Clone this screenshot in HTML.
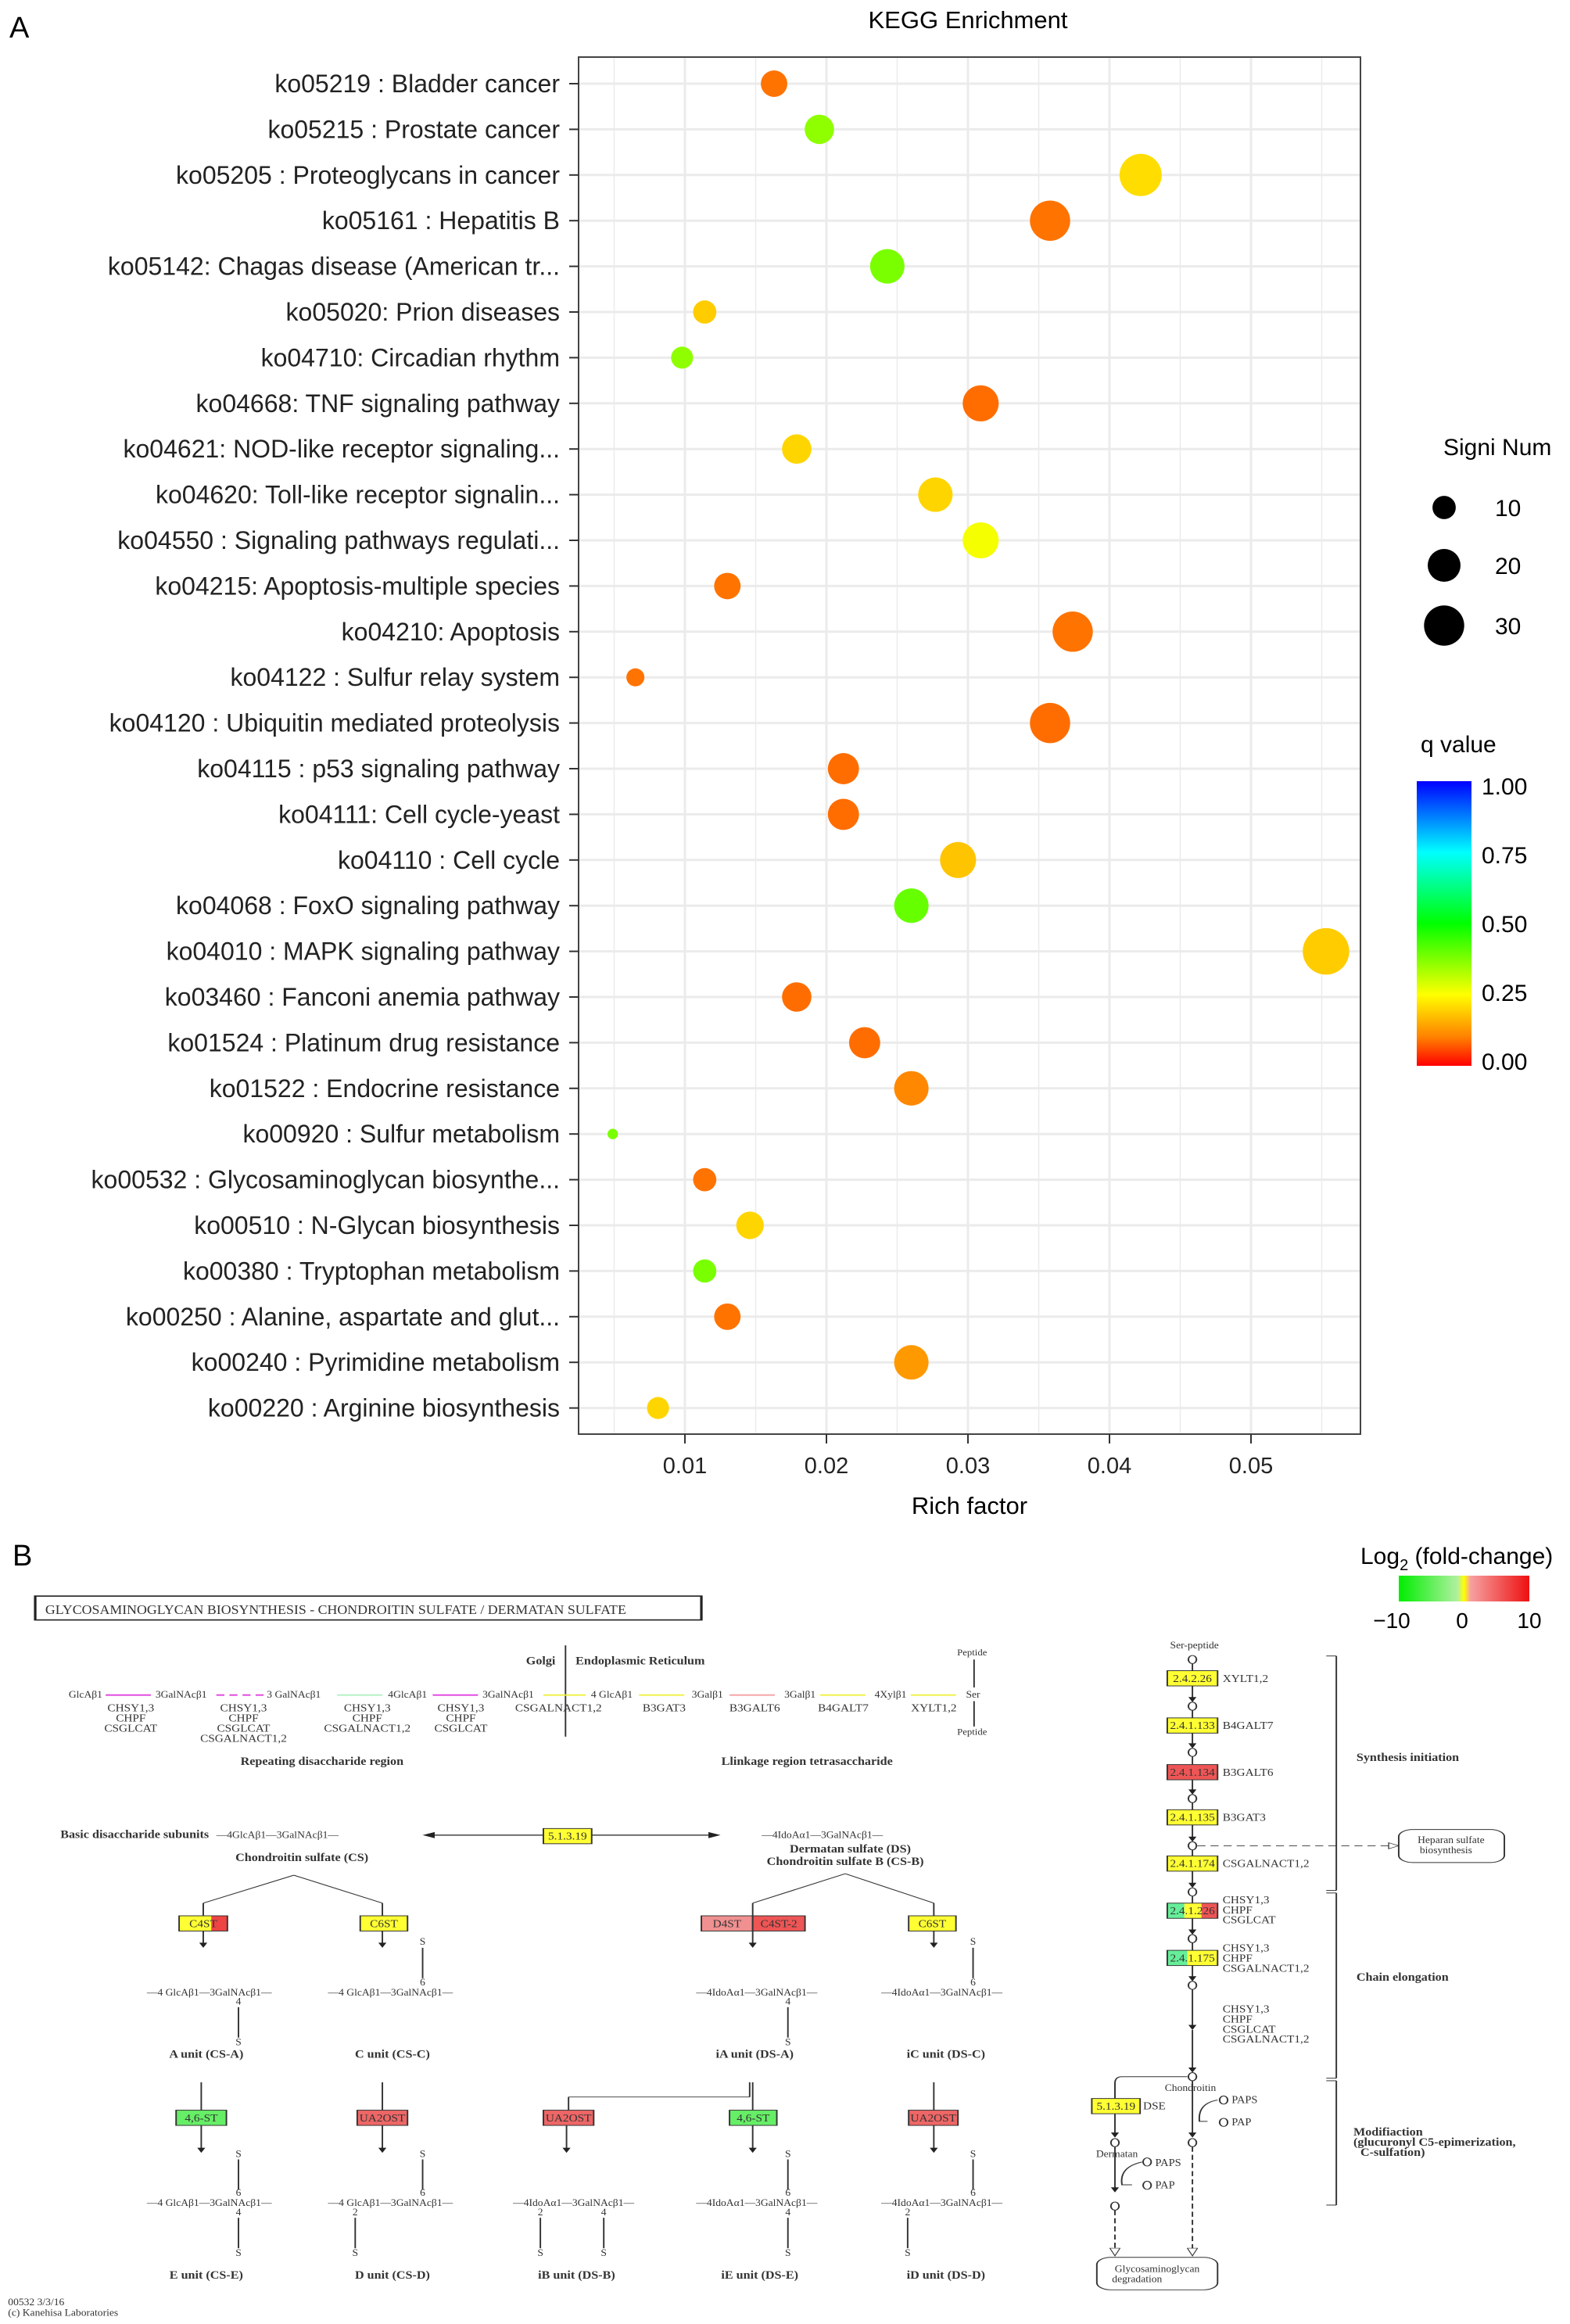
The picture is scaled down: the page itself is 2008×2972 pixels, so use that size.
<!DOCTYPE html>
<html><head><meta charset="utf-8"><style>
body{margin:0;background:#fff;}
svg{display:block;font-family:"Liberation Sans",sans-serif;}
.d text{font-family:"Liberation Serif",serif;fill:#333;}
</style></head><body>
<svg id="main" width="2008" height="2972" viewBox="0 0 2008 2972">
<text x="12" y="48" font-size="38">A</text>
<text x="1238" y="36" font-size="31" text-anchor="middle">KEGG Enrichment</text>
<g id="grid"></g>
<rect x="740" y="73" width="1000" height="1761" fill="none" stroke="#444" stroke-width="2"/>
<g id="yaxis"></g>
<g id="xaxis"></g>
<g id="points"></g>
<text x="1240" y="1936" font-size="31" text-anchor="middle">Rich factor</text>
<g>
<text x="1846" y="582" font-size="30">Signi Num</text>
<circle cx="1847" cy="649" r="14.9" fill="#000"/>
<text x="1912" y="660" font-size="30">10</text>
<circle cx="1847" cy="723" r="21" fill="#000"/>
<text x="1912" y="734" font-size="30">20</text>
<circle cx="1847" cy="800" r="25.7" fill="#000"/>
<text x="1912" y="811" font-size="30">30</text>
</g>
<g>
<defs><linearGradient id="qg" x1="0" y1="1" x2="0" y2="0">
<stop offset="0" stop-color="#ff0000"/><stop offset="0.1" stop-color="#ff8000"/><stop offset="0.25" stop-color="#ffff00"/><stop offset="0.5" stop-color="#00ff00"/><stop offset="0.75" stop-color="#00ffff"/><stop offset="1" stop-color="#0000ff"/></linearGradient></defs>
<text x="1817" y="962" font-size="30">q value</text>
<rect x="1812" y="999" width="70" height="364" fill="url(#qg)"/>
<text x="1895" y="1016" font-size="30">1.00</text>
<text x="1895" y="1104" font-size="30">0.75</text>
<text x="1895" y="1192" font-size="30">0.50</text>
<text x="1895" y="1280" font-size="30">0.25</text>
<text x="1895" y="1368" font-size="30">0.00</text>
</g>

<text x="16" y="2002" font-size="38">B</text>
<text x="1740" y="2000" font-size="30">Log<tspan font-size="20" dy="8">2</tspan><tspan dy="-8"> (fold-change)</tspan></text>
<defs><linearGradient id="fc" x1="0" x2="1"><stop offset="0" stop-color="#00ee00"/><stop offset="0.45" stop-color="#b0f0a0"/><stop offset="0.5" stop-color="#ffff00"/><stop offset="0.55" stop-color="#f6a0a0"/><stop offset="1" stop-color="#ee1010"/></linearGradient></defs>
<rect x="1789" y="2015" width="167" height="33" fill="url(#fc)"/>
<text x="1780" y="2082" font-size="28" text-anchor="middle">−10</text>
<text x="1870" y="2082" font-size="28" text-anchor="middle">0</text>
<text x="1956" y="2082" font-size="28" text-anchor="middle">10</text>
<g class="d" id="diag" transform="translate(0,1960) scale(1.287,0.649)"></g>
</svg>
<script>
const categories=["ko05219 : Bladder cancer","ko05215 : Prostate cancer","ko05205 : Proteoglycans in cancer","ko05161 : Hepatitis B","ko05142: Chagas disease (American tr...","ko05020: Prion diseases","ko04710: Circadian rhythm","ko04668: TNF signaling pathway","ko04621: NOD-like receptor signaling...","ko04620: Toll-like receptor signalin...","ko04550 : Signaling pathways regulati...","ko04215: Apoptosis-multiple species","ko04210: Apoptosis","ko04122 : Sulfur relay system","ko04120 : Ubiquitin mediated proteolysis","ko04115 : p53 signaling pathway","ko04111: Cell cycle-yeast","ko04110 : Cell cycle","ko04068 : FoxO signaling pathway","ko04010 : MAPK signaling pathway","ko03460 : Fanconi anemia pathway","ko01524 : Platinum drug resistance","ko01522 : Endocrine resistance","ko00920 : Sulfur metabolism","ko00532 : Glycosaminoglycan biosynthe...","ko00510 : N-Glycan biosynthesis","ko00380 : Tryptophan metabolism","ko00250 : Alanine, aspartate and glut...","ko00240 : Pyrimidine metabolism","ko00220 : Arginine biosynthesis"];
const richFactor=[0.0163,0.0195,0.0422,0.0358,0.0243,0.0114,0.0098,0.0309,0.0179,0.0277,0.0309,0.0130,0.0374,0.0065,0.0358,0.0212,0.0212,0.0293,0.0260,0.0553,0.0179,0.0227,0.0260,0.0049,0.0114,0.0146,0.0114,0.0130,0.0260,0.0081];
const signiNum=[13,16,33,30,22,10,9,24,16,22,24,13,30,6,30,18,18,24,22,40,16,18,22,2,10,14,10,13,22,9];
const qValue=[0.09,0.36,0.21,0.09,0.38,0.19,0.36,0.085,0.2,0.2,0.26,0.09,0.09,0.09,0.085,0.085,0.085,0.18,0.4,0.19,0.085,0.085,0.11,0.38,0.09,0.2,0.38,0.09,0.13,0.2];
const xTicks=[0.01,0.02,0.03,0.04,0.05];
const NS="http://www.w3.org/2000/svg";
function xS(v){return 695+v*18100;}
function yS(i){return 107+i*58.4;}
function rS(n){return 4.7*Math.sqrt(n);}
function qColor(q){const st=[[0,[255,0,0]],[0.1,[255,128,0]],[0.25,[255,255,0]],[0.5,[0,255,0]],[0.75,[0,255,255]],[1,[0,0,255]]];
for(let i=1;i<st.length;i++){if(q<=st[i][0]){const t=(q-st[i-1][0])/(st[i][0]-st[i-1][0]);const a=st[i-1][1],b=st[i][1];return `rgb(${a.map((v,k)=>Math.round(v+(b[k]-v)*t)).join(',')})`;}}return 'rgb(0,0,255)';}
function mk(tag,attrs,parent){const e=document.createElementNS(NS,tag);for(const k in attrs)e.setAttribute(k,attrs[k]);parent.appendChild(e);return e;}
const grid=document.getElementById('grid'),ya=document.getElementById('yaxis'),xa=document.getElementById('xaxis'),pts=document.getElementById('points');
for(let k=1;k<=11;k++){const v=k*0.005;const x=xS(v);if(x<740||x>1740)continue;const g=mk('line',{x1:x,x2:x,y1:73,y2:1834,stroke:'#ebebeb','stroke-width':k%2===0?3:1.5},grid);

}
categories.forEach((c,i)=>{const y=yS(i);
const gl=mk('line',{x1:740,x2:1740,y1:y,y2:y,stroke:'#ebebeb','stroke-width':3},grid);


const tk=mk('line',{x1:728,x2:740,y1:y,y2:y,stroke:'#333','stroke-width':2},ya);


const t=mk('text',{x:716,y:y+11,'font-size':32,'text-anchor':'end',fill:'#222'},ya);t.textContent=c;


const p=mk('circle',{cx:xS(richFactor[i]),cy:y,r:rS(signiNum[i]),fill:qColor(qValue[i])},pts);

});
xTicks.forEach(v=>{const x=xS(v);
const tk=mk('line',{x1:x,x2:x,y1:1834,y2:1846,stroke:'#333','stroke-width':2},xa);


const t=mk('text',{x:x,y:1884,'font-size':29,'text-anchor':'middle',fill:'#222'},xa);t.textContent=String(v);

});

const D=document.getElementById('diag');
function L(x1,y1,x2,y2,o){return mk('line',Object.assign({x1,y1,x2,y2,stroke:'#333','stroke-width':1.5},o||{}),D);}
function T(x,y,s,o){o=Object.assign({'font-size':17},o||{});const fs=o['font-size']*1.2;o['font-size']=fs;const e=mk('text',Object.assign({x:0,y:0,transform:`translate(${x},${y}) scale(0.55,1)`},o),D);e.textContent=s;return e;}
function B(x,y,w,h,fill,s,name){const r=mk('rect',{x,y,width:w,height:h,fill,stroke:'#333','stroke-width':1.5},D);


T(x+w/2,y+h/2+7,s,{'text-anchor':'middle','font-size':18,fill:'#222'});}
function A(x,y1,y2){L(x,y1,x,y2-8);mk('polygon',{points:`${x-4},${y2-10} ${x+4},${y2-10} ${x},${y2}`,fill:'#222'},D);}
function C(x,y){mk('ellipse',{cx:x,cy:y,rx:4,ry:8,fill:'#fff',stroke:'#333','stroke-width':1.5},D);}
const tb=mk('rect',{x:35,y:125,width:662,height:47,fill:'none',stroke:'#222','stroke-width':2.5},D);


T(45,160,'GLYCOSAMINOGLYCAN  BIOSYNTHESIS - CHONDROITIN  SULFATE / DERMATAN  SULFATE',{'font-size':21});
T(552,260,'Golgi',{'text-anchor':'end','font-weight':'bold','font-size':19});T(572,260,'Endoplasmic Reticulum',{'font-weight':'bold','font-size':19});
L(562,222,562,402);
[['GlcAβ1',85],['3GalNAcβ1',180],['3 GalNAcβ1',292],['4GlcAβ1',405],['3GalNAcβ1',505],['4 GlcAβ1',608],['3Galβ1',703],['3Galβ1',795],['4Xylβ1',885],['Ser',967]].forEach(a=>T(a[1],325,a[0],{'text-anchor':'middle','font-size':16}));
[[105,150,'#e040e0',''],[215,265,'#e040e0','8,5'],[335,380,'#b0f0c0',''],[430,475,'#e040e0',''],[540,582,'#f0f040',''],[635,680,'#f0f040',''],[725,770,'#f6a0a0',''],[815,860,'#f0f040',''],[905,950,'#f0f040','']].forEach(s=>L(s[0],320,s[1],320,{stroke:s[2],'stroke-width':3,'stroke-dasharray':s[3]}));
[[130,['CHSY1,3','CHPF','CSGLCAT']],[242,['CHSY1,3','CHPF','CSGLCAT','CSGALNACT1,2']],[365,['CHSY1,3','CHPF','CSGALNACT1,2']],[458,['CHSY1,3','CHPF','CSGLCAT']],[555,['CSGALNACT1,2']],[660,['B3GAT3']],[750,['B3GALT6']],[838,['B4GALT7']],[928,['XYLT1,2']]].forEach(g=>g[1].forEach((s,k)=>T(g[0],352+k*20,s,{'text-anchor':'middle','font-size':18})));
T(966,242,'Peptide',{'text-anchor':'middle','font-size':15});T(966,398,'Peptide',{'text-anchor':'middle','font-size':15});
L(968,250,968,305);L(968,332,968,382);
T(320,458,'Repeating disaccharide region',{'text-anchor':'middle','font-weight':'bold','font-size':19});
T(802,458,'Llinkage region tetrasaccharide',{'text-anchor':'middle','font-weight':'bold','font-size':19});
T(60,602,'Basic disaccharide subunits',{'font-weight':'bold','font-size':19});T(215,602,'—4GlcAβ1—3GalNAcβ1—',{'font-size':16});
L(428,596,708,596,{'stroke-width':2});mk('polygon',{points:'420,596 432,590 432,602',fill:'#222'},D);mk('polygon',{points:'716,596 704,590 704,602',fill:'#222'},D);
B(540,583,48,30,'#ffff33','5.1.3.19','enzyme-5-1-3-19-top');
T(757,602,'—4IdoAα1—3GalNAcβ1—',{'font-size':16});
T(300,647,'Chondroitin sulfate (CS)',{'text-anchor':'middle','font-weight':'bold','font-size':19});
T(845,630,'Dermatan sulfate (DS)',{'text-anchor':'middle','font-weight':'bold','font-size':19});T(840,655,'Chondroitin sulfate B (CS-B)',{'text-anchor':'middle','font-weight':'bold','font-size':19});
L(292,675,202,730);L(292,675,380,730);L(840,672,748,730);L(840,672,928,730);L(202,730,202,755);L(380,730,380,755);L(748,730,748,755);L(928,730,928,755);
mk('rect',{x:178,y:755,width:48,height:30,fill:'#ffff33'},D);mk('rect',{x:210,y:755,width:16,height:30,fill:'#ee4444'},D);B(178,755,48,30,'none','C4ST','enzyme-c4st');
B(358,755,47,30,'#ffff33','C6ST','enzyme-c6st');B(697,755,51,30,'#f09090','D4ST','enzyme-d4st');B(748,755,52,30,'#ee5555','C4ST-2','enzyme-c4st-2');B(903,755,47,30,'#ffff33','C6ST','enzyme-c6st-ds');
A(202,785,818);A(380,785,818);A(748,785,818);A(928,785,818);
[420,967].forEach(x=>{T(x,812,'S',{'text-anchor':'middle','font-size':16});L(x,818,x,878);T(x,892,'6',{'text-anchor':'middle','font-size':16});});
const cs='—4 GlcAβ1—3GalNAcβ1—',ds='—4IdoAα1—3GalNAcβ1—';
[[208,cs],[388,cs],[752,ds],[936,ds]].forEach(a=>T(a[0],912,a[1],{'font-size':16,'text-anchor':'middle'}));
[237,783].forEach(x=>{T(x,930,'4',{'text-anchor':'middle','font-size':16});L(x,935,x,995);T(x,1010,'S',{'text-anchor':'middle','font-size':16});});
[['A unit (CS-A)',205],['C unit (CS-C)',390],['iA unit (DS-A)',750],['iC unit (DS-C)',940]].forEach(a=>T(a[1],1035,a[0],{'text-anchor':'middle','font-weight':'bold','font-size':19}));
L(200,1083,200,1138);L(380,1083,380,1138);L(748,1083,748,1138);L(928,1083,928,1138);L(745,1083,745,1112);L(745,1112,565,1112);L(565,1112,565,1138);
B(175,1138,50,30,'#66ee66','4,6-ST','enzyme-46st-a');B(355,1138,50,30,'#ee6666','UA2OST','enzyme-ua2ost-c');B(540,1138,50,30,'#ee6666','UA2OST','enzyme-ua2ost-ia');B(725,1138,47,30,'#66ee66','4,6-ST','enzyme-46st-ia');B(903,1138,49,30,'#ee6666','UA2OST','enzyme-ua2ost-ic');
[200,380,563,748,928].forEach(x=>A(x,1168,1222));
[237,420,783,967].forEach(x=>{T(x,1230,'S',{'text-anchor':'middle','font-size':16});L(x,1235,x,1295);T(x,1307,'6',{'text-anchor':'middle','font-size':16});});
[[208,cs],[388,cs],[570,ds],[752,ds],[936,ds]].forEach(a=>T(a[0],1327,a[1],{'font-size':16,'text-anchor':'middle'}));
[[237,'4'],[353,'2'],[537,'2'],[600,'4'],[783,'4'],[902,'2']].forEach(a=>{T(a[0],1345,a[1],{'text-anchor':'middle','font-size':16});L(a[0],1350,a[0],1410);T(a[0],1425,'S',{'text-anchor':'middle','font-size':16});});
[['E unit (CS-E)',205],['D unit (CS-D)',390],['iB unit (DS-B)',573],['iE unit (DS-E)',755],['iD unit (DS-D)',940]].forEach(a=>T(a[1],1470,a[0],{'text-anchor':'middle','font-weight':'bold','font-size':19}));
T(8,1522,'00532 3/3/16',{'font-size':16});T(8,1543,'(c) Kanehisa Laboratories',{'font-size':16});
T(1187,228,'Ser-peptide',{'text-anchor':'middle','font-size':16});
const circ=[250,342,433,524,617,708,800,892];
const bx=[[272,'#ffff33','2.4.2.26','XYLT1,2'],[365,'#ffff33','2.4.1.133','B4GALT7'],[457,'#ee5555','2.4.1.134','B3GALT6'],[546,'#ffff33','2.4.1.135','B3GAT3'],[637,'#ffff33','2.4.1.174','CSGALNACT1,2']];
circ.forEach(y=>C(1185,y));
bx.forEach((b,k)=>{L(1185,circ[k]+8,1185,b[0]);B(1160,b[0],50,30,b[1],b[2],'enzyme-'+b[2].replace(/\./g,'-'));A(1185,b[0]+30,circ[k+1]-8);T(1215,b[0]+22,b[3],{'font-size':18});});
L(1185,716,1185,730);mk('rect',{x:1160,y:730,width:17,height:30,fill:'#66ee99'},D);mk('rect',{x:1177,y:730,width:17,height:30,fill:'#ffff33'},D);mk('rect',{x:1194,y:730,width:16,height:30,fill:'#ee5555'},D);B(1160,730,50,30,'none','2.4.1.226','enzyme-2-4-1-226');
A(1185,760,792);['CHSY1,3','CHPF','CSGLCAT'].forEach((s,k)=>T(1215,730+k*20,s,{'font-size':18}));
L(1185,808,1185,823);mk('rect',{x:1160,y:823,width:20,height:30,fill:'#66ee99'},D);mk('rect',{x:1180,y:823,width:30,height:30,fill:'#ffff33'},D);B(1160,823,50,30,'none','2.4.1.175','enzyme-2-4-1-175');
A(1185,853,884);['CHSY1,3','CHPF','CSGALNACT1,2'].forEach((s,k)=>T(1215,825+k*20,s,{'font-size':18}));
A(1185,900,980);L(1185,980,1185,1010);A(1185,1010,1064);['CHSY1,3','CHPF','CSGLCAT','CSGALNACT1,2'].forEach((s,k)=>T(1215,945+k*20,s,{'font-size':18}));
C(1185,1072);T(1183,1100,'Chondroitin',{'text-anchor':'middle','font-size':16});
L(1190,617,1385,617,{'stroke-dasharray':'8,5'});mk('polygon',{points:'1390,617 1380,611 1380,623',fill:'#fff',stroke:'#333'},D);
mk('rect',{x:1390,y:585,width:105,height:65,rx:14,fill:'#fff',stroke:'#333','stroke-width':1.5},D);T(1442,612,'Heparan sulfate',{'text-anchor':'middle','font-size':16});T(1437,632,'biosynthesis',{'text-anchor':'middle','font-size':16});
L(1328,243,1328,705);L(1318,243,1328,243);L(1318,705,1328,705);L(1328,710,1328,1075);L(1318,710,1328,710);L(1318,1075,1328,1075);L(1328,1080,1328,1325);L(1318,1080,1328,1080);L(1318,1325,1328,1325);
T(1348,450,'Synthesis initiation',{'font-weight':'bold','font-size':19});T(1348,883,'Chain elongation',{'font-weight':'bold','font-size':19});
T(1345,1188,'Modifiaction',{'font-weight':'bold','font-size':19});T(1345,1208,'(glucuronyl C5-epimerization,',{'font-weight':'bold','font-size':19});T(1352,1228,'C-sulfation)',{'font-weight':'bold','font-size':19});
mk('path',{d:'M1180,1072 L1115,1072 Q1108,1072 1108,1085 L1108,1115',fill:'none',stroke:'#333','stroke-width':1.5},D);
B(1085,1115,48,30,'#ffff33','5.1.3.19','enzyme-5-1-3-19-dse');T(1136,1136,'DSE',{'font-size':18});
A(1108,1145,1192);C(1108,1202);T(1110,1230,'Dermatan',{'text-anchor':'middle','font-size':16});
A(1185,1080,1192);C(1185,1202);
mk('path',{d:'M1210,1118 Q1190,1125 1192,1160 L1200,1160',fill:'none',stroke:'#333','stroke-width':1.5},D);C(1216,1118);T(1224,1124,'PAPS',{'font-size':17});C(1216,1162);T(1224,1168,'PAP',{'font-size':17});
mk('path',{d:'M1135,1240 Q1112,1250 1115,1285 L1125,1285',fill:'none',stroke:'#333','stroke-width':1.5},D);C(1140,1240);T(1148,1248,'PAPS',{'font-size':17});C(1140,1286);T(1148,1292,'PAP',{'font-size':17});
A(1108,1210,1300);C(1108,1327);L(1108,1335,1108,1420,{'stroke-dasharray':'10,6'});L(1185,1210,1185,1420,{'stroke-dasharray':'10,6'});
mk('polygon',{points:'1103,1410 1113,1410 1108,1425',fill:'#fff',stroke:'#333'},D);mk('polygon',{points:'1180,1410 1190,1410 1185,1425',fill:'#fff',stroke:'#333'},D);
mk('rect',{x:1090,y:1428,width:120,height:64,rx:14,fill:'#fff',stroke:'#333','stroke-width':1.5},D);T(1150,1457,'Glycosaminoglycan',{'text-anchor':'middle','font-size':16});T(1130,1477,'degradation',{'text-anchor':'middle','font-size':16});
</script>
</body></html>
